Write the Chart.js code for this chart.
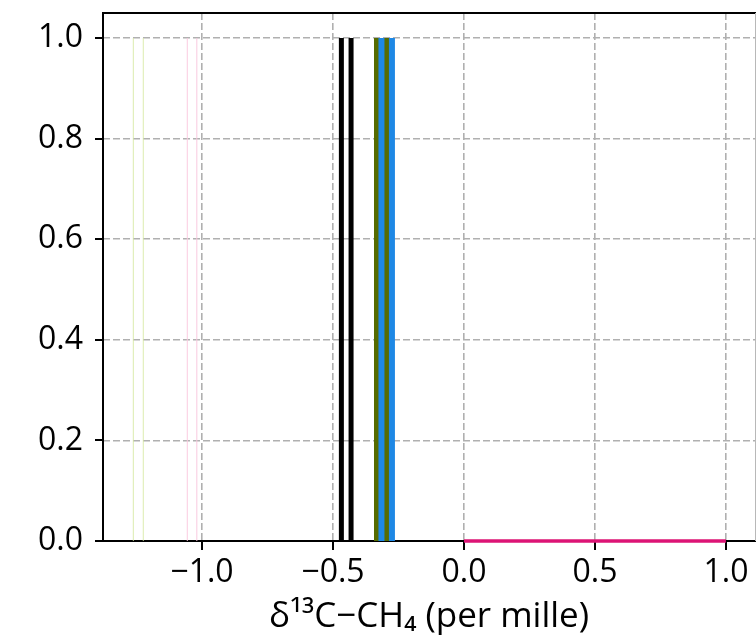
<!DOCTYPE html>
<html>
<head>
<meta charset="utf-8">
<script src="https://cdn.jsdelivr.net/npm/chart.js@4"></script>
<style>
    body { margin: 0; background: #fff; }
    canvas { display: block; }
</style>
</head>
<body>
<canvas id="isoChart" width="756" height="643"></canvas>
<script>
// Data (x in per mille, lines run from 0 up to lineTop)
const xTicks = [-1.0, -0.5, 0.0, 0.5, 1.0];
const yTicks = [0.0, 0.2, 0.4, 0.6, 0.8, 1.0];
const lineTop = 1.0;
const yellowX = [-1.262, -1.224];
const pinkX = [-1.056, -1.020];
const blackX = [-0.468, -0.431];
const blueX = [-0.315, -0.275];
const oliveX = [-0.332, -0.296];
const magentaX = [0.0, 1.0];
const magentaY = [0.0, 0.0];

function fmt(v) {
    return v.toFixed(1).replace('-', '\u2212');
}

function vlines(xs, color, width) {
    return xs.map(function(x) {
        return {
            data: [{x: x, y: 0}, {x: x, y: lineTop}],
            borderColor: color,
            borderWidth: width,
            pointRadius: 0,
            borderCapStyle: 'butt'
        };
    });
}

const datasets = [].concat(
    vlines(yellowX, 'rgba(214, 232, 160, 0.7)', 1.2),
    vlines(pinkX, 'rgba(250, 200, 222, 0.8)', 1.2),
    vlines(blackX, '#000000', 5),
    vlines(blueX, '#1e88e5', 6),
    vlines(oliveX, '#566b00', 6),
    [{
        data: magentaX.map(function(x, i) { return {x: x, y: magentaY[i]}; }),
        borderColor: '#dc1475',
        borderWidth: 3.5,
        pointRadius: 0,
        borderCapStyle: 'butt',
        clip: false
    }]
);

// frame and tick marks, matplotlib style
const framePlugin = {
    id: 'frame',
    beforeDatasetsDraw(chart) {
        const ctx = chart.ctx;
        const a = chart.chartArea;
        const xs = chart.scales.x, ys = chart.scales.y;
        ctx.save();
        ctx.strokeStyle = '#000';
        ctx.lineWidth = 2;
        ctx.beginPath();
        ctx.moveTo(a.left, a.bottom);
        ctx.lineTo(a.left, a.top);
        ctx.lineTo(a.right + 2, a.top);
        ctx.moveTo(a.left, a.bottom);
        ctx.lineTo(a.right + 2, a.bottom);
        xTicks.forEach(function(v) {
            const px = Math.round(xs.getPixelForValue(v));
            ctx.moveTo(px, a.bottom);
            ctx.lineTo(px, a.bottom + 9);
        });
        yTicks.forEach(function(v) {
            const py = Math.round(ys.getPixelForValue(v));
            ctx.moveTo(a.left, py);
            ctx.lineTo(a.left - 8, py);
        });
        ctx.stroke();
        ctx.strokeStyle = '#b8b8b8';
        ctx.lineWidth = 1;
        ctx.beginPath();
        ctx.moveTo(755.5, a.top);
        ctx.lineTo(755.5, a.bottom);
        ctx.stroke();
        ctx.restore();
    }
};

const tickFont = { family: "'Open Sans', 'DejaVu Sans', sans-serif", size: 32 };
const titleFont = { family: "'Open Sans', 'DejaVu Sans', sans-serif", size: 35 };

const ctx = document.getElementById('isoChart').getContext('2d');
const isoChart = new Chart(ctx, {
    type: 'line',
    data: { datasets: datasets },
    options: {
        responsive: false,
        animation: false,
        layout: { padding: { top: 13, right: 1, left: 0, bottom: 0 } },
        plugins: {
            legend: { display: false },
            tooltip: { enabled: false }
        },
        scales: {
            x: {
                type: 'linear',
                min: -1.378,
                max: 1.111,
                afterBuildTicks: function(axis) {
                    axis.ticks = xTicks.map(function(v) { return {value: v}; });
                },
                afterFit: function(axis) {
                    axis.height = 102;
                    axis.paddingLeft = 0;
                    axis.paddingRight = 0;
                },
                ticks: {
                    color: '#000',
                    font: tickFont,
                    padding: 13,
                    maxRotation: 0,
                    callback: function(v) { return fmt(v); }
                },
                grid: {
                    color: '#b0b0b0',
                    lineWidth: 1.6,
                    drawTicks: false
                },
                border: { display: false, dash: [7, 3] },
                title: {
                    display: true,
                    text: '\u03b4\u00b9\u00b3C\u2212CH\u2084 (per mille)',
                    color: '#000',
                    font: titleFont,
                    padding: { top: 0, bottom: 5 }
                }
            },
            y: {
                type: 'linear',
                min: 0,
                max: 1.0497,
                afterBuildTicks: function(axis) {
                    axis.ticks = yTicks.map(function(v) { return {value: v}; });
                },
                afterFit: function(axis) {
                    axis.width = 103;
                    axis.paddingTop = 0;
                    axis.paddingBottom = 0;
                },
                ticks: {
                    color: '#000',
                    font: tickFont,
                    padding: 20,
                    callback: function(v) { return fmt(v); }
                },
                grid: {
                    color: '#b0b0b0',
                    lineWidth: 1.6,
                    drawTicks: false
                },
                border: { display: false, dash: [7, 3] }
            }
        }
    },
    plugins: [framePlugin]
});
</script>
</body>
</html>
